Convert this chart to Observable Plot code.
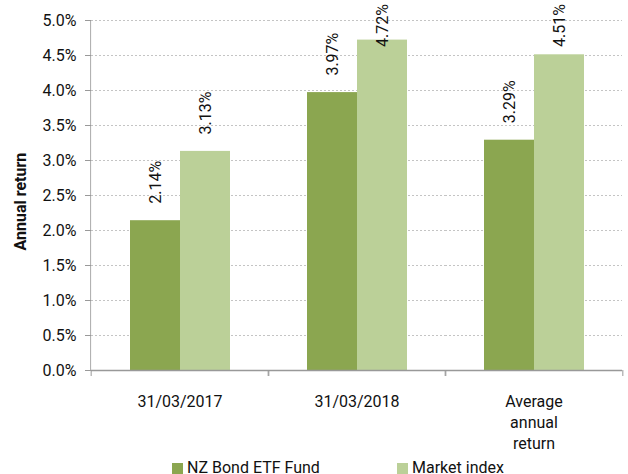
<!DOCTYPE html>
<html>
<head>
<meta charset="utf-8">
<script src="https://cdn.jsdelivr.net/npm/d3@7"></script>
<script src="https://cdn.jsdelivr.net/npm/@observablehq/plot@0.6"></script>
<style>
  html, body { margin: 0; padding: 0; background: #fff; }
  #legend { display: flex; font-family: Roboto, sans-serif; font-size: 16px; color: #111; padding-left: 172px; margin-top: 4px; line-height: 18px; }
  #legend .item { display: flex; align-items: center; }
  #legend .sw { width: 11px; height: 11px; margin-right: 4px; }
</style>
</head>
<body>
<div id="chart"></div>
<div id="legend"></div>
<script>
const categories = ["31/03/2017", "31/03/2018", "Average annual return"];
const seriesNames = ["NZ Bond ETF Fund", "Market index"];
const fundValues = [2.14, 3.97, 3.29];
const indexValues = [3.13, 4.72, 4.51];
const seriesColors = ["#8ba650", "#bbd098"];
const yTicks = [0, 0.5, 1, 1.5, 2, 2.5, 3, 3.5, 4, 4.5, 5];
const yLabel = "Annual return";
const labelCeiling = 4.38; // data labels are kept inside the chart area, as in the original

const rows = categories.flatMap((c, i) => [
  {cat: c, series: seriesNames[0], value: fundValues[i]},
  {cat: c, series: seriesNames[1], value: indexValues[i]}
]);

const axisGrey = "#999";
const bandWidth = (628 - 90 - 5) / categories.length;
const halfBand = bandWidth / 2;

const chart = Plot.plot({
  width: 628,
  height: 455,
  marginTop: 20,
  marginBottom: 85,
  marginLeft: 90,
  marginRight: 5,
  style: {fontFamily: "Roboto, sans-serif", fontSize: "16px", color: "#111", background: "#fff"},
  fx: {domain: categories, padding: 0, label: null, axis: null},
  x: {domain: seriesNames, paddingInner: 0, paddingOuter: 0.745, axis: null},
  y: {domain: [0, 5], label: null, axis: null},
  color: {domain: seriesNames, range: seriesColors},
  marks: [
    Plot.gridY(yTicks, {stroke: "#c4c4c4", strokeOpacity: 1, strokeDasharray: "2,2"}),
    Plot.barY(rows, {fx: "cat", x: "series", y: "value", fill: "series"}),
    Plot.ruleY([0], {stroke: axisGrey, strokeWidth: 1.5}),
    // vertical axis line, drawn in the first facet only
    Plot.rect([{cat: categories[0]}], {fx: "cat", y1: 0, y2: 5, fill: axisGrey, insetLeft: -0.75, insetRight: bandWidth - 0.75}),
    Plot.axisY(yTicks, {tickSize: 6, tickPadding: 9, tickFormat: d => d.toFixed(1) + "%", stroke: axisGrey, label: null}),
    Plot.axisFx({anchor: "bottom", tickSize: 0, tickPadding: 22, tickFormat: d => d.replace(/ /g, "\n"), lineHeight: 1.31, label: null}),
    Plot.axisFx({anchor: "bottom", tickSize: 6, text: null, dx: -halfBand, stroke: axisGrey, label: null}),
    Plot.axisFx({anchor: "bottom", tickSize: 6, text: null, dx: halfBand, stroke: axisGrey, label: null}),
    Plot.text(rows, {fx: "cat", x: "series", y: d => Math.min(d.value, labelCeiling), text: d => d.value.toFixed(2) + "%", rotate: -90, textAnchor: "start", dy: -17, fill: "#111"}),
    Plot.text([{cat: categories[0], t: yLabel}], {fx: "cat", text: "t", frameAnchor: "left", rotate: -90, dx: -71, dy: 55, fontWeight: "bold", fontSize: 16, fill: "#111"})
  ]
});
document.getElementById("chart").appendChild(chart);

const legend = document.getElementById("legend");
seriesNames.forEach((name, i) => {
  const item = document.createElement("div");
  item.className = "item";
  if (i === 0) item.style.width = "225px";
  const sw = document.createElement("span");
  sw.className = "sw";
  sw.style.background = seriesColors[i];
  const label = document.createElement("span");
  label.textContent = name;
  item.appendChild(sw);
  item.appendChild(label);
  legend.appendChild(item);
});
</script>
</body>
</html>
